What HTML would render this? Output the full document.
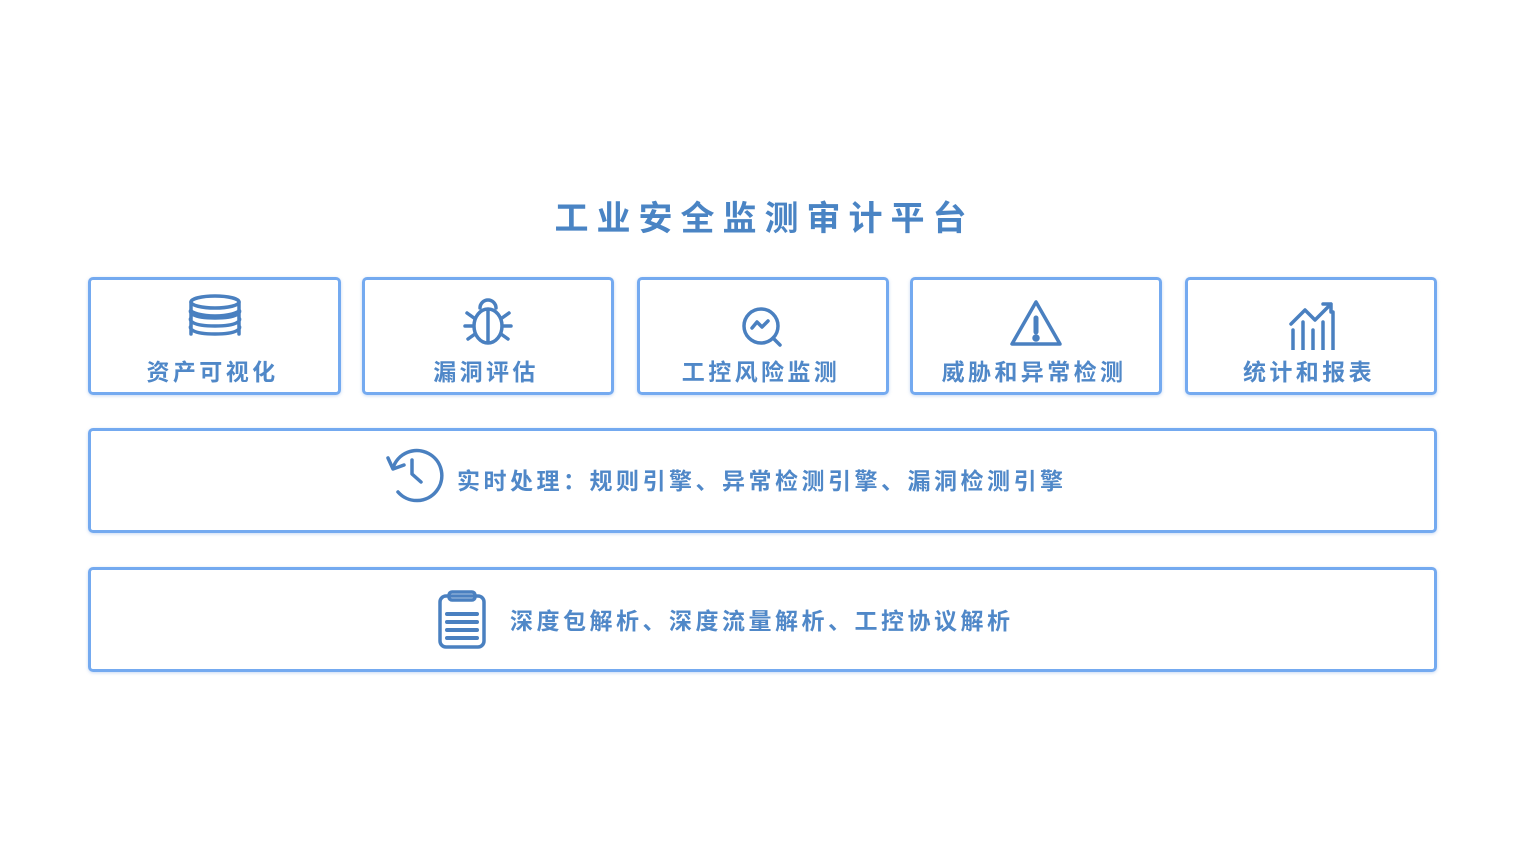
<!DOCTYPE html>
<html><head><meta charset="utf-8"><style>
body{margin:0;width:1513px;height:852px;background:#fff;position:relative;font-family:"Liberation Sans","Noto Sans CJK SC",sans-serif;overflow:hidden}
.t{position:absolute;left:0;width:1513px;top:196px;text-align:center;font-size:34px;font-weight:bold;color:#4a84c4;letter-spacing:8px;line-height:46px;padding-left:8px}
.b{position:absolute;border:3px solid #74aaf0;border-radius:5px;box-sizing:border-box;box-shadow:0 1px 3px rgba(100,150,220,.35)}
.l{position:absolute;left:-4px;right:0;top:77px;text-align:center;font-size:23px;font-weight:bold;color:#5088c8;letter-spacing:3.4px;line-height:30px}
.ic{position:absolute;left:50%;transform:translateX(-50%);top:14px}
.r{position:absolute;font-size:23px;font-weight:bold;color:#5088c8;letter-spacing:3.5px;line-height:30px;white-space:nowrap}
svg{fill:none;stroke:#4a80c0;stroke-width:3.5;stroke-linecap:round;stroke-linejoin:round}
</style></head><body>
<div class="t">工业安全监测审计平台</div>

<div class="b" style="left:88px;top:277px;width:253px;height:118px">
<svg class="ic" width="56" height="56" viewBox="0 0 56 56"><ellipse cx="28" cy="8" rx="24" ry="6"/><path d="M4 8v8c0 3 11 6 24 6s24-3 24-6V8M4 16c-2 2 0 8 24 8s26-6 24-8M4 24c-2 2 0 8 24 8s26-6 24-8M4 32c-2 2 0 8 24 8s26-6 24-8M4 16v24M52 16v24"/></svg>
<div class="l">资产可视化</div></div>

<div class="b" style="left:362px;top:277px;width:252px;height:118px">
<svg class="ic" width="56" height="56" viewBox="0 0 56 56"><path d="M20 14a8 8 0 0 1 16 0"/><ellipse cx="28" cy="32" rx="14" ry="17"/><path d="M28 16v32M14 24l-7-5M42 24l7-5M13 32H5M43 32h8M15 40l-7 5M41 40l7 5"/></svg>
<div class="l">漏洞评估</div></div>

<div class="b" style="left:637px;top:277px;width:252px;height:118px">
<svg class="ic" width="56" height="56" viewBox="0 0 56 56"><circle cx="26" cy="32" r="17"/><path d="M38 44l7 7M17 34l5-6 5 5 6-6"/></svg>
<div class="l">工控风险监测</div></div>

<div class="b" style="left:910px;top:277px;width:252px;height:118px">
<svg class="ic" width="56" height="56" viewBox="0 0 56 56"><path d="M28 8L4 50h48z"/><path d="M28 24v14" stroke-width="5"/><circle cx="28" cy="44" r="2" fill="#4a80c0"/></svg>
<div class="l">威胁和异常检测</div></div>

<div class="b" style="left:1185px;top:277px;width:252px;height:118px">
<svg class="ic" width="56" height="56" viewBox="0 0 56 56"><path d="M10 56V36M20 56V28M30 56V36M40 56V28M50 56V18M8 30L22 16l10 10 16-16M40 10h8v8"/></svg>
<div class="l">统计和报表</div></div>

<div class="b" style="left:88px;top:428px;width:1349px;height:105px"></div>
<svg style="position:absolute;left:384px;top:446px" width="60" height="58" viewBox="0 0 60 58"><path d="M9 22A25 25 0 1 1 14 46"/><path d="M4 12l5 11 11-4" /><path d="M28 14v14l9 8"/></svg>
<div class="r" style="left:457px;top:466px">实时处理：规则引擎、异常检测引擎、漏洞检测引擎</div>

<div class="b" style="left:88px;top:567px;width:1349px;height:105px"></div>
<svg style="position:absolute;left:437px;top:590px" width="50" height="60" viewBox="0 0 50 60"><rect x="3" y="6" width="44" height="51" rx="6"/><rect x="12" y="2" width="26" height="8" rx="3"/><path d="M10 24h30M10 32h30M10 40h30M10 48h30" stroke-width="4"/></svg>
<div class="r" style="left:510px;top:606px">深度包解析、深度流量解析、工控协议解析</div>
</body></html>
